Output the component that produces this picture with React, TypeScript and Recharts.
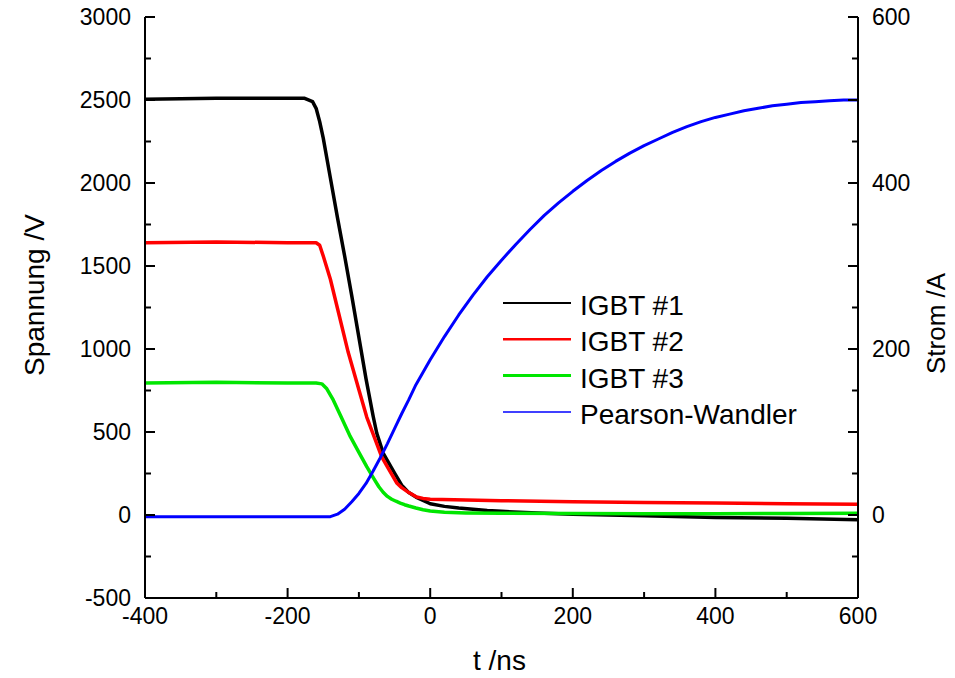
import React from 'react';
import { LineChart, Line, XAxis, YAxis, Legend } from 'recharts';

const FONT = '"Liberation Sans", Arial, Helvetica, sans-serif';

// ---- axis ticks ----
const timeTicks = [-400, -300, -200, -100, 0, 100, 200, 300, 400, 500, 600];
const timeLabels = [-400, -200, 0, 200, 400, 600];
const voltTicks = [-500, -250, 0, 250, 500, 750, 1000, 1250, 1500, 1750, 2000, 2250, 2500, 2750, 3000];
const voltLabels = [-500, 0, 500, 1000, 1500, 2000, 2500, 3000];
const currTicks = [-100, -50, 0, 50, 100, 150, 200, 250, 300, 350, 400, 450, 500, 550, 600];
const currMajor = [-100, 0, 100, 200, 300, 400, 500, 600];
const currLabels = [0, 200, 400, 600];

// ---- series: IGBT #1 (V) ----
const igbt1T = [-400, -300, -200, -176, -165, -160, -155, -150, -140, -130, -120, -110, -100, -90, -80, -75, -70, -66, -60, -50, -40, -30, -20, -10, 0, 20, 40, 60, 80, 100, 150, 200, 300, 400, 500, 600];
const igbt1V = [2505, 2510, 2510, 2510, 2490, 2450, 2370, 2270, 2030, 1790, 1560, 1320, 1070, 820, 595, 494, 427, 373, 328, 253, 180, 135, 108, 88, 68, 52, 42, 34, 27, 22, 12, 5, -5, -15, -20, -28];

// ---- series: IGBT #2 (V) ----
const igbt2T = [-400, -300, -200, -160, -155, -150, -140, -130, -115, -100, -89, -80, -68, -60, -47, -40, -30, -19, -10, 0, 50, 100, 200, 300, 400, 500, 600];
const igbt2V = [1640, 1645, 1640, 1640, 1625, 1560, 1420, 1244, 980, 755, 590, 487, 350, 290, 193, 165, 135, 108, 100, 95, 90, 86, 80, 76, 72, 68, 65];

// ---- series: IGBT #3 (V) ----
const igbt3T = [-400, -300, -200, -160, -152, -145, -136, -125, -112, -100, -89, -78, -72, -66, -60, -54, -48, -42, -36, -30, -20, -10, 0, 20, 50, 100, 200, 300, 400, 500, 600];
const igbt3V = [795, 800, 795, 795, 790, 760, 693, 592, 472, 377, 291, 212, 170, 137, 112, 95, 83, 72, 62, 54, 42, 32, 24, 16, 12, 10, 9, 8, 8, 9, 10];

// ---- series: Pearson-Wandler (A) ----
const pearsonT = [-400, -300, -200, -140, -130, -120, -110, -100, -90, -80, -70, -60, -50, -40, -30, -20, -10, 0, 20, 40, 60, 80, 100, 120, 140, 160, 180, 200, 220, 240, 260, 280, 300, 320, 340, 360, 380, 400, 420, 440, 460, 480, 500, 520, 540, 560, 580, 600];
const pearsonA = [-2, -2, -2, -2, 1, 7, 16, 26, 38, 53, 69, 86, 104, 122, 139, 157, 172, 187, 215, 241, 265, 287, 307, 326, 344, 361, 376, 390, 403, 415, 426, 436, 445, 453, 461, 468, 474, 479, 483, 487, 490, 493, 495, 497, 498, 499, 500, 500];

const toRows = (ts: number[], vs: number[]) => ts.map((t, i) => ({ t, v: vs[i] }));

const series = [
  { name: 'IGBT #1', color: '#000000', data: toRows(igbt1T, igbt1V), axis: 'v', width: 3.5, legendWidth: 2 },
  { name: 'IGBT #2', color: '#ff0000', data: toRows(igbt2T, igbt2V), axis: 'v', width: 3.5, legendWidth: 2.5 },
  { name: 'IGBT #3', color: '#00e600', data: toRows(igbt3T, igbt3V), axis: 'v', width: 3.5, legendWidth: 3 },
  { name: 'Pearson-Wandler', color: '#0000ff', data: toRows(pearsonT, pearsonA), axis: 'a', width: 3, legendWidth: 1.5 },
];

const AX = { stroke: '#000', strokeWidth: 2 };
const TICK_FONT = 23;

const LeftTick = (p: any) => {
  const { x, y, payload } = p;
  const v = payload.value;
  const major = voltLabels.includes(v);
  return (
    <g>
      <line x1={x} x2={x + (major ? 10 : 6)} y1={y} y2={y} stroke="#000" strokeWidth={2} />
      {major && (
        <text x={x - 14} y={y + 8} textAnchor="end" fontSize={TICK_FONT} fontFamily={FONT} fill="#000">{v}</text>
      )}
    </g>
  );
};

const RightTick = (p: any) => {
  const { x, y, payload } = p;
  const v = payload.value;
  const major = currMajor.includes(v);
  return (
    <g>
      <line x1={x} x2={x - (major ? 10 : 6)} y1={y} y2={y} stroke="#000" strokeWidth={2} />
      {currLabels.includes(v) && (
        <text x={x + 14} y={y + 8} textAnchor="start" fontSize={TICK_FONT} fontFamily={FONT} fill="#000">{v}</text>
      )}
    </g>
  );
};

const BottomTick = (p: any) => {
  const { x, y, payload } = p;
  const v = payload.value;
  const major = timeLabels.includes(v);
  return (
    <g>
      <line x1={x} x2={x} y1={y} y2={y - (major ? 10 : 6)} stroke="#000" strokeWidth={2} />
      {major && (
        <text x={x} y={y + 26} textAnchor="middle" fontSize={TICK_FONT} fontFamily={FONT} fill="#000">{v}</text>
      )}
    </g>
  );
};

const TopTick = (p: any) => {
  const { x, y, payload } = p;
  const v = payload.value;
  const major = timeLabels.includes(v);
  return (
    <g>
      <line x1={x} x2={x} y1={y} y2={y + (major ? 10 : 6)} stroke="#000" strokeWidth={2} />
    </g>
  );
};

const VTitle = () => (
  <text transform="translate(44,376) rotate(-90)" textAnchor="start" fontSize={28} fontFamily={FONT} fill="#000">Spannung /V</text>
);
const ATitle = () => (
  <text transform="translate(945,374) rotate(-90)" textAnchor="start" fontSize={26} fontFamily={FONT} fill="#000">Strom /A</text>
);
const TTitle = () => (
  <text x={473} y={670} textAnchor="start" fontSize={28} fontFamily={FONT} fill="#000">t /ns</text>
);

const LegendBox = () => (
  <svg width={340} height={150} style={{ display: 'block' }}>
    {series.map((s, i) => {
      const base = 30 + i * 36.3;
      return (
        <g key={s.name}>
          <line x1={0} x2={68} y1={base - 12} y2={base - 12} stroke={s.color} strokeWidth={s.legendWidth} />
          <text x={77} y={base} fontSize={28} fontFamily={FONT} fill="#000">{s.name}</text>
        </g>
      );
    })}
  </svg>
);

export default function App() {
  return (
    <div style={{ position: 'absolute', left: 0, top: 0, background: '#fff' }}>
      <LineChart width={955} height={678} margin={{ top: 17, right: 0, bottom: 0, left: 0 }}>
        <XAxis xAxisId="b" type="number" dataKey="t" orientation="bottom" domain={[-400, 600]} allowDataOverflow
          ticks={timeTicks} interval={0} tick={BottomTick} tickLine={false} tickSize={0} tickMargin={0}
          axisLine={AX} height={80} label={<TTitle />} />
        <XAxis xAxisId="t" type="number" dataKey="t" orientation="top" domain={[-400, 600]} allowDataOverflow
          ticks={timeTicks} interval={0} tick={TopTick} tickLine={false} tickSize={0} tickMargin={0}
          axisLine={AX} height={0} />
        <YAxis yAxisId="v" type="number" orientation="left" domain={[-500, 3000]} allowDataOverflow
          ticks={voltTicks} interval={0} tick={LeftTick} tickLine={false} tickSize={0} tickMargin={0}
          axisLine={AX} width={145} label={<VTitle />} />
        <YAxis yAxisId="a" type="number" orientation="right" domain={[-100, 600]} allowDataOverflow
          ticks={currTicks} interval={0} tick={RightTick} tickLine={false} tickSize={0} tickMargin={0}
          axisLine={AX} width={97} label={<ATitle />} />
        <Legend layout="horizontal" verticalAlign="middle" align="center" content={() => <LegendBox />}
          wrapperStyle={{ position: 'absolute', left: 503, top: 285, width: 340, height: 150 }} />
        {series.map((s) => (
          <Line key={s.name} xAxisId="b" yAxisId={s.axis} data={s.data} dataKey="v" name={s.name}
            type="linear" stroke={s.color} strokeWidth={s.width} dot={false} activeDot={false}
            isAnimationActive={false} strokeLinejoin="round" />
        ))}
      </LineChart>
    </div>
  );
}
